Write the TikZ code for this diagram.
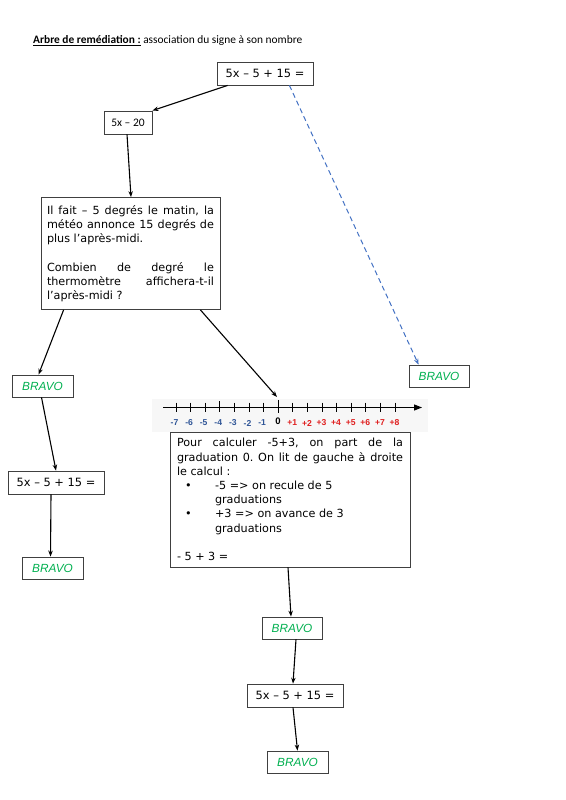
\documentclass[tikz,border=0pt]{standalone}
\usepackage{fontspec}
\setmainfont{DejaVu Sans}
\newfontfamily\calib{Carlito}
\newfontfamily\arialf{Liberation Sans}
\newfontfamily\bravofont{Liberation Sans}
\usetikzlibrary{arrows.meta,calc}
\definecolor{bravogreen}{RGB}{0,176,80}
\definecolor{nlblue}{RGB}{47,85,151}
\definecolor{nlred}{RGB}{224,32,32}
\definecolor{boxgray}{RGB}{64,64,64}
\definecolor{dashblue}{RGB}{68,114,196}
\frenchspacing
\begin{document}
\begin{tikzpicture}[x=1pt,y=-1pt,
  box/.style={draw=boxgray,line width=0.8pt,fill=white,inner sep=0pt,align=center},
  eq/.style={box,minimum width=96pt,minimum height=23pt,font=\fontsize{11.4}{14}\selectfont},
  bravo/.style={box,minimum width=61pt,minimum height=22pt,font=\bravofont\itshape\fontsize{11.8}{13}\selectfont,text=bravogreen},
  txt/.style={box,font=\frenchspacing\fontsize{11.2}{14.2}\selectfont,align=justify},
  arr/.style={line width=1.1pt,-{Stealth[length=6pt,width=4.5pt]}},
  dasharr/.style={line width=1pt,draw=dashblue,dash pattern=on 5pt off 3.5pt,-{Stealth[length=6pt,width=4.5pt]}},
  nltick/.style={line width=0.9pt},
  nllab/.style={font=\arialf\bfseries\fontsize{8.6}{9}\selectfont,inner sep=0pt}]
\useasboundingbox (0,0) rectangle (565,800);
\fill[white] (0,0) rectangle (565,800);

% title
\node[anchor=base west,inner sep=0pt,font=\calib\fontsize{11.4}{13}\selectfont] (title) at (33,44)
  {\textbf{\underline{Arbre de remédiation :}} association du signe à son nombre};

% boxes
\node[eq] (top) at (265,73.5) {5x – 5 + 15 =};
\node[box,minimum width=48pt,minimum height=23pt,font=\calib\fontsize{11.5}{13}\selectfont] (b520) at (128,122.5) {5x – 20};
\node[txt,minimum width=179pt,minimum height=112pt,text width=167pt] (big) at (130.5,253.5)
  {Il fait – 5 degrés le matin, la\linebreak météo annonce 15 degrés de\linebreak plus l’après-midi.\\[14.2pt]
   Combien de degré le\linebreak thermomètre affichera-t-il\linebreak l’après-midi ?};
\node[bravo] (bravoL) at (42.5,386) {BRAVO};
\node[eq] (eqL) at (56,482.5) {5x – 5 + 15 =};
\node[bravo] (bravoL2) at (52.5,568) {BRAVO};
\node[bravo,minimum width=60pt] (bravoR) at (439,376) {BRAVO};

% number line
\fill[gray!6] (152,399) rectangle (428,432);
\draw[line width=1.3pt,-{Triangle[length=8pt,width=6pt]}] (163,407.5) -- (422,407.5);
\foreach \i in {0,...,15}{
  \pgfmathsetmacro{\xx}{176+14.6*\i}
  \ifnum\i=3 \draw[nltick] (\xx,401) -- (\xx,412);
  \else\ifnum\i=7 \draw[nltick] (\xx,400) -- (\xx,412.5);
  \else \draw[nltick] (\xx,402.5) -- (\xx,411.5); \fi\fi
}
\foreach \i/\l in {0/-7,1/-6,2/-5,3/-4,4/-3,5/-2,6/-1}{
  \node[nllab,text=nlblue] at (174.5+14.6*\i,423) {\l};}
\node[nllab,font=\arialf\bfseries\fontsize{9.5}{10}\selectfont] at (278,421.5) {0};
\foreach \i/\l in {8/+1,9/+2,10/+3,11/+4,12/+5,13/+6,14/+7,15/+8}{
  \node[nllab,text=nlred] at (175.5+14.6*\i,423) {\l};}
\coordinate (nl0) at (277,397);

\node[txt,minimum width=240pt,minimum height=135pt,text width=226pt] (pour) at (290,499.5)
  {Pour calculer -5+3, on part de la\linebreak graduation 0. On lit de gauche à droite\linebreak le calcul :\\
   \hspace*{8pt}\textbullet\hspace{23.5pt}-5 =\textgreater{} on recule de 5\\
   \hspace*{38pt}graduations\\
   \hspace*{8pt}\textbullet\hspace{23.5pt}+3 =\textgreater{} on avance de 3\\
   \hspace*{38pt}graduations\\[14.2pt]
   - 5 + 3 =};

\node[bravo,minimum width=60pt] (bravoM) at (292,628) {BRAVO};
\node[eq] (eqM) at (295,695.5) {5x – 5 + 15 =};
\node[bravo] (bravoB) at (297.5,762) {BRAVO};

% connectors
\draw[arr] ([xshift=11pt]top.south west) -- (b520.north east);
\draw[dasharr] ([xshift=-24pt]top.south east) -- ([xshift=10pt]bravoR.north west);
\draw[arr] ([xshift=-1pt]b520.south) -- ([xshift=0.5pt]big.north);
\draw[arr] ([xshift=23pt]big.south west) -- ([xshift=-4pt]bravoL.north);
\draw[arr] ([xshift=-20pt]big.south east) -- (nl0);
\draw[arr] ([xshift=-1pt]bravoL.south) -- (eqL.north);
\draw[arr] ([xshift=-5pt]eqL.south) -- ([xshift=-2pt]bravoL2.north);
\draw[arr] ([xshift=-2pt]pour.south) -- ([xshift=-1pt]bravoM.north);
\draw[arr] ([xshift=4pt]bravoM.south) -- ([xshift=-2pt]eqM.north);
\draw[arr] ([xshift=-2pt]eqM.south) -- (bravoB.north);
\end{tikzpicture}
\end{document}
